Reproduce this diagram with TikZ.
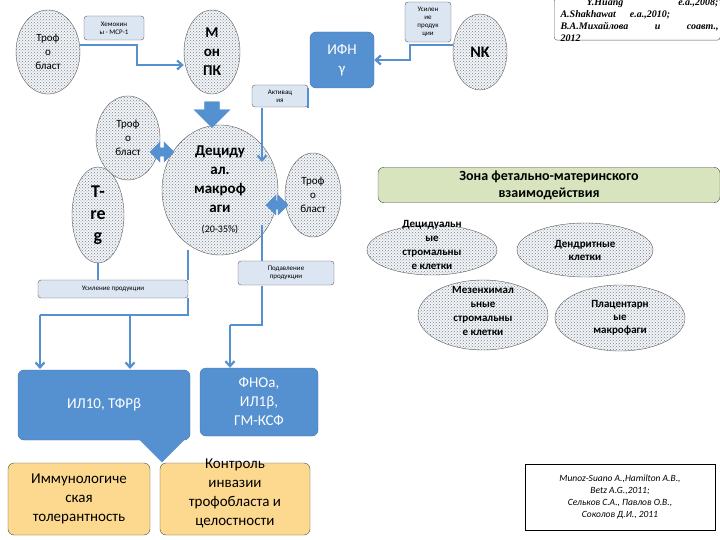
\documentclass[tikz,border=0pt]{standalone}
\usepackage{fontspec}
\setmainfont{Carlito}
\newfontfamily\tnr{Liberation Serif}
\usetikzlibrary{shapes.geometric,patterns,arrows.meta,shapes.arrows}
\definecolor{bl}{HTML}{5590D0}
\definecolor{lbl}{HTML}{DCE6F2}
\definecolor{gr}{HTML}{D7E4BD}
\definecolor{ye}{HTML}{FCD98E}
\tikzset{
 cell/.style={ellipse,draw=gray!70!black,fill=lbl!40,postaction={pattern=crosshatch dots,pattern color=gray},align=center,inner sep=0pt},
 lab/.style={draw=gray!70!black,fill=lbl,rounded corners=3pt,align=center,font=\fontsize{7}{8}\selectfont},
 bbox/.style={draw=bl!80!black,fill=bl,rounded corners=6pt,text=white,align=center,font=\fontsize{15}{19}\selectfont},
 ybox/.style={draw=gray!60!black,fill=ye,rounded corners=6pt,align=center,font=\fontsize{15}{19}\selectfont},
 con/.style={draw=bl,line width=2.2pt},
 arr/.style={con,-{Straight Barb[length=5pt,width=9pt]}},
}
\begin{document}
\begin{tikzpicture}[x=1pt,y=-1pt]
\useasboundingbox (0,0) rectangle (720,540);
% top left
\node[cell,minimum width=64pt,minimum height=84pt,font=\fontsize{11}{14}\selectfont] (t1) at (48,52) {Троф\\о\\бласт};
\node[lab,minimum width=60pt,minimum height=24pt] (chem) at (114,28) {Хемокин\\ы - МСР-1};
\node[cell,minimum width=56pt,minimum height=84pt,font=\bfseries\fontsize{15}{19}\selectfont] (mon) at (212,52) {М\\он\\ПК};
\draw[arr] (t1.east|-0,45) -- (137,45) -- (137,65) -- (mon.west|-0,65);
\node[bbox,minimum width=64pt,minimum height=56pt] (ifn) at (342,60) {ИФН\\γ};
\node[lab,minimum width=56pt,minimum height=22pt] (act) at (280,96) {Активац\\ия};
\node[cell,minimum width=64pt,minimum height=84pt,font=\fontsize{11}{14}\selectfont] (t2) at (128,138) {Троф\\о\\бласт};
\node[cell,minimum width=116pt,minimum height=130pt,font=\bfseries\fontsize{15}{19}\selectfont] (dec) at (220,190) {Дециду\\ал.\\макроф\\аги\\[1pt]\mdseries\fontsize{10}{12}\selectfont (20-35\%)};
\node[cell,minimum width=56pt,minimum height=84pt,font=\fontsize{11}{14}\selectfont] (t3) at (313,195) {Троф\\о\\бласт};
\node[cell,minimum width=52pt,minimum height=96pt,font=\bfseries\fontsize{18}{22}\selectfont] (treg) at (98,215) {Т-\\re\\g};
\draw[con] (308,88) -- (308,108);
\draw[arr] (262,108) -- (262,162);
% block arrows
\node[single arrow,fill=bl,draw=bl,minimum width=36pt,single arrow head extend=6pt,minimum height=26pt,rotate=-90,inner sep=4pt] (ba1) at (212,111) {};
\node[double arrow,fill=bl,draw=bl,minimum width=20pt,minimum height=24pt,double arrow head extend=3pt,inner sep=2pt] (da1) at (162,152) {};
\node[double arrow,fill=bl,draw=bl,minimum width=20pt,minimum height=22pt,double arrow head extend=3pt,inner sep=2pt] (da2) at (277,205) {};
% production boxes
\node[lab,minimum width=150pt,minimum height=18pt] (usil) at (113,289) {Усиление продукции};
\node[lab,minimum width=96pt,minimum height=24pt] (pod) at (286,273) {Подавление\\продукции};
\draw[con] (treg.south) -- (treg.south|-usil.north);
\draw[con] (188,250) -- (188,280);
\draw[con] (262,225) -- (262,261);
\draw[con] (262,286) -- (262,325) -- (230,325);
\node[bbox,minimum width=172pt,minimum height=70pt] (il) at (104,405) {ИЛ10, ТФРβ};
\node[bbox,minimum width=118pt,minimum height=68pt] (tnf) at (259,402) {ФНОа,\\ИЛ1β,\\ГМ-КСФ};
\draw[con] (188,298) -- (188,315) -- (40,315);
\draw[arr] (40,315) -- (40,369);
\draw[arr] (130,315) -- (130,369);
\draw[arr] (230,325) -- (tnf.north-|230,0);
% bottom
\node[single arrow,fill=bl,draw=bl,minimum width=38pt,single arrow head extend=24pt,minimum height=24pt,rotate=-90,inner sep=0pt] (ba2) at (162,450) {};
\node[ybox,minimum width=142pt,minimum height=72pt] (imm) at (79,499) {Иммунологиче\\ская\\толерантность};
\node[ybox,minimum width=150pt,minimum height=72pt] (ctl) at (235,499) {};
\node[font=\fontsize{15}{19}\selectfont,align=center] (ctlt) at (235,493) {Контроль\\инвазии\\трофобласта и\\целостности};
% NK
\node[cell,minimum width=54pt,minimum height=76pt,font=\bfseries\fontsize{16}{19}\selectfont] (nk) at (480,52) {NK};
\node[lab,minimum width=46pt,minimum height=40pt] (usil2) at (428,22) {Усилен\\ие\\продук\\ции};
\draw[arr] (nk.west|-0,45) -- (410,45) -- (410,60) -- (ifn.east|-0,60);
% citation top
\node[draw=gray!70!black,rounded corners=3pt,minimum width=166pt,minimum height=42pt,anchor=north west] (cit1) at (554,-2) {};
\node[anchor=north west,align=left,font=\tnr\bfseries\itshape\fontsize{10}{12}\selectfont,text width=158pt] (cit1t) at (557,-5) {\hspace*{26pt}Y.Huang\hfill e.a.,2008;\\A.Shakhawat\hspace{14pt}e.a.,2010;\\B.A.Михайлова\hfill и\hfill соавт.,\\2012};
% zone
\node[draw=gray!60!black,fill=gr,rounded corners=6pt,minimum width=342pt,minimum height=34pt,align=center,font=\bfseries\fontsize{14}{17}\selectfont] (zone) at (549,185) {Зона фетально-материнского\\взаимодействия};
\tikzset{small/.style={cell,font=\bfseries\fontsize{11}{13}\selectfont}}
\node[small,minimum width=130pt,minimum height=50pt] (dsc) at (432,250) {};
\node[font=\bfseries\fontsize{11}{14}\selectfont,align=center] (dsct) at (432,245) {Децидуальн\\ые\\стромальны\\е клетки};
\node[small,minimum width=136pt,minimum height=54pt] (den) at (585,250) {Дендритные\\клетки};
\node[small,minimum width=130pt,minimum height=70pt] (mes) at (483,315) {};
\node[font=\bfseries\fontsize{11}{14}\selectfont,align=center] (mest) at (483,311) {Мезенхимал\\ьные\\стромальны\\е клетки};
\node[small,minimum width=130pt,minimum height=66pt] (pla) at (620,318) {Плацентарн\\ые\\макрофаги};
% citation bottom
\node[draw,minimum width=190pt,minimum height=66pt,align=center,font=\itshape\fontsize{9.5}{12}\selectfont] (cit2) at (620,497) {Munoz-Suano A.,Hamilton A.B.,\\Betz A.G.,2011;\\Сельков С.А., Павлов О.В.,\\Соколов Д.И., 2011};
\end{tikzpicture}
\end{document}
